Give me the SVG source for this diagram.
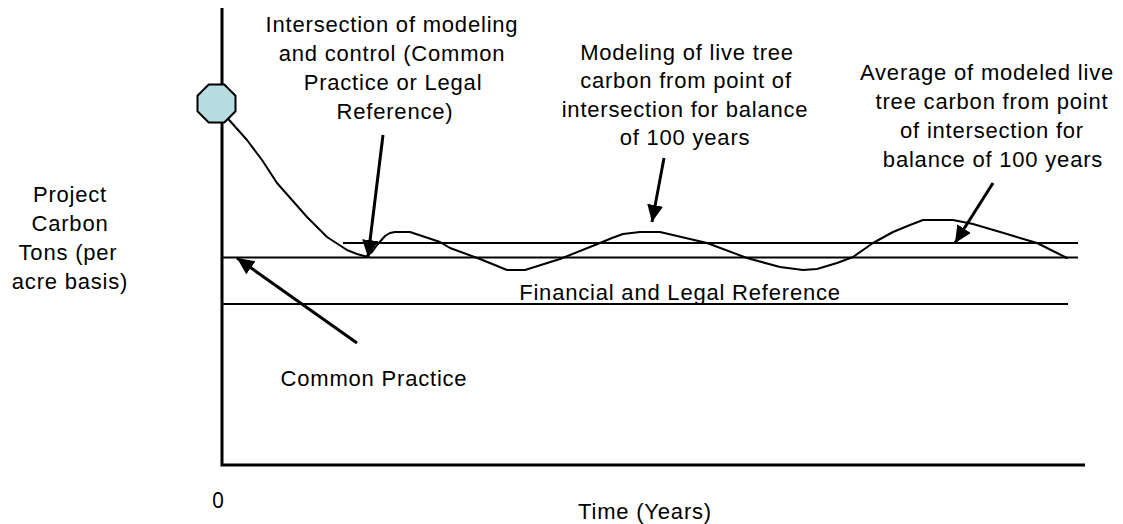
<svg xmlns="http://www.w3.org/2000/svg" width="1123" height="524" viewBox="0 0 1123 524">
  <style>
    text { font-family: "Liberation Sans", Arial, sans-serif; font-size: 22px; fill: #000; letter-spacing: 0.8px; }
    .mid { text-anchor: middle; }
    .axis { stroke: #000; stroke-width: 3; fill: none; }
    .ref { stroke: #000; stroke-width: 2; fill: none; }
    .curve { stroke: #000; stroke-width: 2; fill: none; stroke-linejoin: round; stroke-linecap: round; }
    .pointer { stroke: #000; stroke-width: 3; fill: none; marker-end: url(#head); }
  </style>
  <defs>
    <marker id="head" markerUnits="userSpaceOnUse" markerWidth="20" markerHeight="18" refX="17" refY="8" orient="auto">
      <path d="M0,0 L17,8 L0,16 Z" fill="#000"/>
    </marker>
  </defs>

  <!-- axes -->
  <g id="axes">
    <path class="axis" d="M222,8 V465 H1085"/>
    <text x="218" y="508" style="font-family:'Noto Sans', sans-serif; font-size:21px; letter-spacing:0" class="mid">0</text>
    <text x="645" y="519" class="mid">Time (Years)</text>
    <g id="y-label">
      <text x="70" y="202" class="mid">Project</text>
      <text x="70" y="231" class="mid">Carbon</text>
      <text x="68" y="260" class="mid">Tons (per</text>
      <text x="70" y="289" class="mid">acre basis)</text>
    </g>
  </g>

  <!-- reference levels -->
  <g id="levels">
    <line class="ref" x1="343" y1="243" x2="1078" y2="243"/>
    <line class="ref" x1="222" y1="257.5" x2="1078" y2="257.5"/>
    <line class="ref" x1="222" y1="304" x2="1068" y2="304"/>
    <text x="680" y="300" class="mid">Financial and Legal Reference</text>
  </g>

  <!-- modeled live tree carbon -->
  <g id="model-curve">
    <polyline class="curve" points="222,112 247,140 262,160 277,183 292,200 307,217 327,237 347,250 357,254 366,256.5 372,252 377,245 385,236 390,233 395,232 410,232 440,242 450,248 480,259 507,270 525,270 560,259 600,243 612,238 623,234 640,232 660,232 707,243 747,258 780,267 803,270 817,269 837,263 853,257 873,243 893,232 910,225 923,220 953,220 973,224 1007,234 1020,238 1037,243 1053,251 1067,258"/>
  </g>

  <!-- starting point -->
  <g id="start-node">
    <polygon points="224.3,84.5 235.5,95.7 235.5,111.3 224.3,122.5 208.7,122.5 197.5,111.3 197.5,95.7 208.7,84.5" fill="#b7dde1" stroke="#000" stroke-width="2"/>
  </g>

  <!-- callout labels -->
  <g id="label-intersection">
    <text x="392" y="32" class="mid">Intersection of modeling</text>
    <text x="392" y="61" class="mid">and control (Common</text>
    <text x="393" y="90" class="mid">Practice or Legal</text>
    <text x="395" y="119" class="mid">Reference)</text>
  </g>
  <g id="label-modeling">
    <text x="687" y="60" class="mid">Modeling of live tree</text>
    <text x="686" y="88" class="mid">carbon from point of</text>
    <text x="685" y="117" class="mid">intersection for balance</text>
    <text x="685" y="145" class="mid">of 100 years</text>
  </g>
  <g id="label-average">
    <text x="987" y="80" class="mid">Average of modeled live</text>
    <text x="992" y="109" class="mid">tree carbon from point</text>
    <text x="992" y="138" class="mid">of intersection for</text>
    <text x="993" y="167" class="mid">balance of 100 years</text>
  </g>
  <g id="label-common">
    <text x="374" y="386" class="mid">Common Practice</text>
  </g>

  <!-- pointers -->
  <g id="connectors">
    <line class="pointer" x1="383" y1="135" x2="368" y2="257"/>
    <line class="pointer" x1="664" y1="158" x2="652" y2="222"/>
    <line class="pointer" x1="993" y1="183" x2="955" y2="243"/>
    <line class="pointer" x1="357" y1="343" x2="237" y2="258"/>
  </g>
</svg>
